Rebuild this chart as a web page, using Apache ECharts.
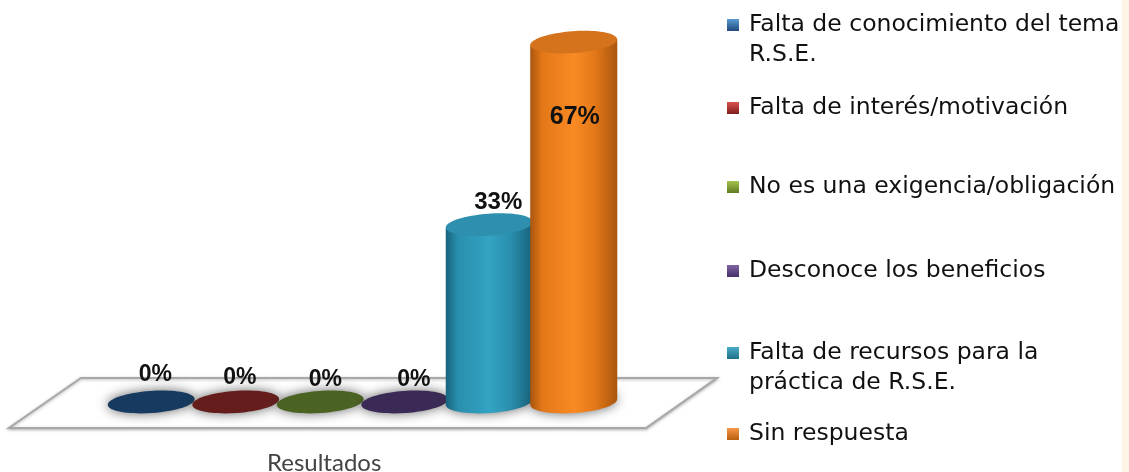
<!DOCTYPE html>
<html><head><meta charset="utf-8">
<style>html,body{margin:0;padding:0;background:#fff}#c{width:1129px;height:472px}</style>
<script src="https://cdn.jsdelivr.net/npm/echarts@6/dist/echarts.min.js"></script>
</head><body><div id="c"></div>
<script>
const categories = ['Falta de conocimiento del tema\nR.S.E.','Falta de interés/motivación','No es una exigencia/obligación','Desconoce los beneficios','Falta de recursos para la\npráctica de R.S.E.','Sin respuesta'];
const values = [0,0,0,0,33,67];
const labels = ['0%','0%','0%','0%','33%','67%'];
const labelDx = [4,4,5,9,9,1];
const labelDy = [-27,-24,-22,-22,-22,75];
const labelSize = [23,23,23,23,24,25];
const legendTops = [-20,93,172,256,308,419];
const sideDark = ['#17375E','#632523','#4F6228','#3F3151','#17637d','#a9560f'];
const sideMid = ['#17375E','#632523','#4F6228','#3F3151','#2a8fae','#e47818'];
const sideLight = ['#17375E','#632523','#4F6228','#3F3151','#33a3c4','#f98a24'];
const topColor = ['#163a60','#651d1b','#4b6322','#3b2a55','#2f8fae','#d4731c'];
const legendLight = ['#5b9bd5','#d9534f','#a6c34c','#8064a2','#4bacc6','#f79646'];
const legendDark = ['#1f497d','#7f1d1b','#5f7a24','#46306b','#1f6f87','#b8600f'];

function grad(a,m,b){return {type:'linear',x:0,y:0,x2:1,y2:0,colorStops:[
  {offset:0,color:a},{offset:.14,color:m},{offset:.5,color:b},{offset:.74,color:m},{offset:1,color:a}]};}

function renderBar(i){
  return function(params,api){
    const p = api.coord([api.value(0),api.value(1)]);
    const base = api.coord([api.value(0),0]);
    const rx = api.size([1,0])[0]/2*1.03, ry = 11, tilt = 4;
    const kids = [];
    const el = (cy,fill,shadow)=>({type:'ellipse',shape:{cx:p[0],cy:cy,rx:rx,ry:ry},rotation:tilt*Math.PI/180,
      originX:p[0],originY:cy,style:Object.assign({fill:fill},shadow?{shadowBlur:12,shadowColor:'rgba(50,50,50,.75)'}:{})});
    if(api.value(1)>0){
      const d = rx*Math.sin(tilt*Math.PI/180);
      const g = grad(sideDark[i],sideMid[i],sideLight[i]);
      kids.push(el(base[1],g,true));
      kids.push({type:'polygon',shape:{points:[[p[0]-rx,p[1]+d],[p[0]+rx,p[1]-d],[p[0]+rx,base[1]-d],[p[0]-rx,base[1]+d]]},
        style:{fill:g}});
      kids.push(el(p[1],topColor[i],false));
    } else {
      kids.push(el(base[1],topColor[i],true));
    }
    kids.push({type:'text',x:p[0]+labelDx[i],y:p[1]+labelDy[i],
      style:{text:labels[i],fontFamily:'"Liberation Sans",Arial,sans-serif',fontWeight:'bold',fontSize:labelSize[i],fill:'#111',align:'center',verticalAlign:'middle'}});
    return {type:'group',children:kids};
  };
}

const chart = echarts.init(document.getElementById('c'));
chart.setOption({
  animation:false,
  backgroundColor:'#fff',
  title:{text:'Resultados',left:267,top:451,padding:0,textStyle:{fontFamily:'Lato,"Open Sans",sans-serif',fontWeight:'normal',fontSize:24,color:'#444'}},
  grid:{left:109,width:507,top:26,bottom:70},
  xAxis:{type:'category',data:categories,axisLine:{show:false},axisTick:{show:false},axisLabel:{show:false},splitLine:{show:false}},
  yAxis:{type:'value',min:0,max:70,show:false},
  legend:categories.map((c,i)=>({
    data:[c],left:727,top:legendTops[i],orient:'vertical',selectedMode:false,icon:'rect',itemWidth:12,itemHeight:12,itemGap:0,padding:0,
    itemStyle:{color:{type:'linear',x:0,y:0,x2:0,y2:1,colorStops:[{offset:0,color:legendLight[i]},{offset:1,color:legendDark[i]}]},borderWidth:0},
    formatter:n=>{
      const ls = n.split('\n').map(s=>'{a|'+s+'}');
      return ls.length>1 ? ['{a| }'].concat(ls).join('\n') : ls[0];
    },
    textStyle:{fontFamily:'"DejaVu Sans",sans-serif',fontSize:23.5,lineHeight:30,color:'#111',
      rich:{a:{fontFamily:'"DejaVu Sans",sans-serif',fontSize:23.5,lineHeight:30,color:'#111',padding:[0,0,0,5]}}}
  })),
  graphic:[
    {type:'rect',shape:{x:1122,y:0,width:7,height:472},style:{fill:'#fdf5e6'}},
    {type:'polygon',shape:{points:[[81,378],[717,378],[646,428],[9,428]]},
      style:{fill:'#fff',stroke:'#a8a8a8',lineWidth:2,shadowBlur:3,shadowColor:'rgba(120,120,120,.5)',shadowOffsetY:1}}
  ],
  series:categories.map((c,i)=>({
    name:c,type:'custom',coordinateSystem:'cartesian2d',data:[[c,values[i]]],
    encode:{x:0,y:1},renderItem:renderBar(i),itemStyle:{color:legendDark[i]},z:2+i,clip:false
  }))
});
</script></body></html>
